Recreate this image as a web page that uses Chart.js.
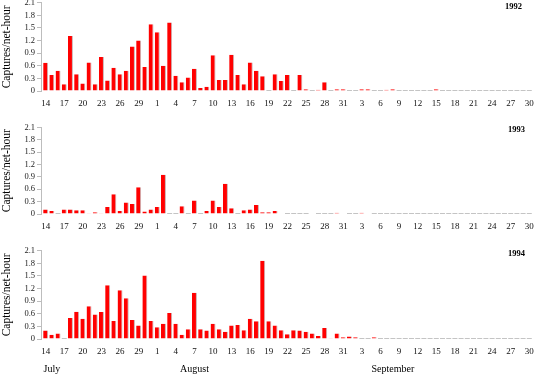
<!DOCTYPE html>
<html><head><meta charset="utf-8">
<script src="https://cdn.jsdelivr.net/npm/chart.js@4/dist/chart.umd.min.js"></script>
<style>
html,body{margin:0;padding:0;background:#fff;width:534px;height:376px;overflow:hidden;position:relative}
canvas{position:absolute;left:0}
</style></head><body>
<canvas id="c1" width="534" height="116" style="top:-4px"></canvas>
<canvas id="c2" width="534" height="126" style="top:111px"></canvas>
<canvas id="c3" width="534" height="139" style="top:237px"></canvas>
<script>
// ---- categories: every day from 14 July to 30 September ----
const monthShort = ['Jul', 'Aug', 'Sep'];
const monthFirstDay = [14, 1, 1];
const monthLastDay = [31, 31, 30];
const categories = [];
monthShort.forEach((m, k) => { for (let d = monthFirstDay[k]; d <= monthLastDay[k]; d++) categories.push(m + ' ' + d); });

// ---- x tick labels (every third day) ----
const xTickDates = ['Jul 14','Jul 17','Jul 20','Jul 23','Jul 26','Jul 29','Aug 1','Aug 4','Aug 7','Aug 10','Aug 13','Aug 16','Aug 19','Aug 22','Aug 25','Aug 28','Aug 31','Sep 3','Sep 6','Sep 9','Sep 12','Sep 15','Sep 18','Sep 21','Sep 24','Sep 27','Sep 30'];
const xTickLabels = ['14','17','20','23','26','29','1','4','7','10','13','16','19','22','25','28','31','3','6','9','12','15','18','21','24','27','30'];

// ---- y ticks ----
const yTicks = [0, 0.3, 0.6, 0.9, 1.2, 1.5, 1.8, 2.1];
const yTickLabels = ['0', '0.3', '0.6', '0.9', '1.2', '1.5', '1.8', '2.1'];

// ---- month labels under the last panel ----
const monthLabels = ['July', 'August', 'September'];
const monthAnchors = ['Jul 15', 'Aug 7', 'Sep 8'];

const yTitle = 'Captures/net-hour';
const years = ['1992', '1993', '1994'];

// ---- captures per net-hour (Jul 14..31, Aug 1..31, Sep 1..30) ----
const values1992 = [
  0.67,0.38,0.48,0.16,1.31,0.40,0.18,0.68,0.16,0.81,0.25,0.55,0.40,0.48,1.06,1.20,0.57,1.59,
  1.40,0.60,1.63,0.36,0.21,0.32,0.53,0.07,0.10,0.85,0.26,0.26,0.86,0.38,0.16,0.68,0.48,0.35,0,0.40,0.24,0.38,0,0.38,0.04,0,0.03,0.21,0,0.04,0.04,
  0,0,0.04,0.04,0,0,0.03,0.04,0,0,0,0,0,0,0.04,0,0,0,0,0,0,0,0,0,0,0,0,0,0,0
];
const values1993 = [
  0.11,0.07,0,0.11,0.11,0.09,0.09,0.02,0.04,0.02,0.17,0.48,0.07,0.28,0.24,0.65,0.06,0.11,
  0.17,0.95,0,0,0.19,0,0.33,0,0.07,0.33,0.17,0.73,0.14,0,0.09,0.11,0.22,0.04,0.04,0.07,0.01,0,0,0,0,0.01,0,0,0,0.03,0.01,
  0,0,0.03,0.01,0,0,0,0,0,0,0,0,0,0,0,0,0,0,0,0,0,0,0,0,0,0,0,0,0,0
];
const values1994 = [
  0.20,0.10,0.13,0,0.50,0.65,0.48,0.78,0.58,0.64,1.28,0.43,1.16,0.97,0.45,0.32,1.51,0.43,
  0.28,0.36,0.62,0.36,0.10,0.23,1.10,0.23,0.20,0.36,0.23,0.17,0.32,0.33,0.21,0.48,0.42,1.86,0.42,0.32,0.21,0.11,0.21,0.20,0.17,0.13,0.07,0.26,0.02,0.13,0.04,
  0.06,0.04,0,0,0.04,0,0,0,0,0,0,0,0,0,0,0,0,0,0,0,0,0,0,0,0,0,0,0,0,0
];

Chart.defaults.font.family = '"Liberation Serif", "Times New Roman", serif';

const panelDecor = {
  id: 'panelDecor',
  beforeDatasetsDraw(chart) {
    const ctx = chart.ctx, meta = chart.getDatasetMeta(0);
    const vals = chart.data.datasets[0].data;
    const y0 = Math.round(chart.scales.y.getPixelForValue(0));
    ctx.save();
    ctx.fillStyle = '#c4c4c4';
    meta.data.forEach((b, i) => {
      if (vals[i].y === 0) ctx.fillRect(b.x - b.width / 2, y0 - 1, b.width, 1);
    });
    ctx.restore();
  },
  afterDraw(chart, args, opts) {
    const ctx = chart.ctx, a = chart.chartArea;
    ctx.save();
    ctx.fillStyle = '#000';
    ctx.font = 'bold 8.5px "Liberation Serif"';
    ctx.textAlign = 'right';
    ctx.textBaseline = 'middle';
    ctx.fillText(opts.year, a.right - opts.yearDx, a.top + opts.yearDy);
    if (opts.months) {
      ctx.font = '10px "Liberation Serif"';
      ctx.textAlign = 'center';
      monthLabels.forEach((m, k) => {
        ctx.fillText(m, chart.scales.x.getPixelForValue(categories.indexOf(monthAnchors[k])), opts.monthY);
      });
    }
    ctx.restore();
  }
};

function makeChart(id, values, year, cfg) {
  new Chart(document.getElementById(id), {
    type: 'bar',
    data: {
      datasets: [{
        data: values.map((v, i) => ({ x: i, y: v })),
        backgroundColor: '#ff0000',
        borderColor: '#c9b4b4',
        borderWidth: { top: 0, right: 1, left: 0, bottom: 0 },
        borderSkipped: 'bottom',
        barPercentage: 0.8,
        categoryPercentage: 1
      }]
    },
    options: {
      responsive: false,
      animation: false,
      events: [],
      layout: { padding: { top: cfg.padTop, right: 1.6, left: 0, bottom: 0 } },
      plugins: {
        legend: { display: false },
        tooltip: { enabled: false },
        panelDecor: { year: year, yearDx: cfg.yearDx, yearDy: cfg.yearDy, months: cfg.months, monthY: cfg.monthY }
      },
      scales: {
        x: {
          type: 'linear', min: -0.75, max: 78.5, offset: false,
          grid: { display: false, drawTicks: false },
          border: { display: false },
          afterBuildTicks: s => { s.ticks = xTickDates.map(d => ({ value: categories.indexOf(d) })); },
          ticks: {
            autoSkip: false, maxRotation: 0, padding: 7,
            font: { size: 9 }, color: '#111',
            callback: (v, i) => xTickLabels[i]
          },
          afterFit: s => { s.height = cfg.xH; s.paddingLeft = 0; s.paddingRight = 0; }
        },
        y: {
          min: 0, max: 2.1,
          afterBuildTicks: s => { s.ticks = yTicks.map(v => ({ value: v })); },
          ticks: {
            autoSkip: false, padding: 2,
            font: { size: 8.5 }, color: '#222',
            callback: (v, i) => yTickLabels[i]
          },
          grid: { drawOnChartArea: false, drawTicks: true, tickLength: 4, color: '#bdbdbd' },
          border: { color: '#bdbdbd' },
          title: { display: true, text: yTitle, font: { size: 11.5 }, color: '#000', padding: 0 },
          afterFit: s => { s.width = 41; s.paddingTop = 0; s.paddingBottom = 0; }
        }
      }
    },
    plugins: [panelDecor]
  });
}

makeChart('c1', values1992, years[0], { padTop: 6.7, xH: 21, yearDx: 10.5, yearDy: 4.3 });
makeChart('c2', values1993, years[1], { padTop: 16.3, xH: 23, yearDx: 7.5, yearDy: 2.7 });
makeChart('c3', values1994, years[2], { padTop: 13.7, xH: 37, yearDx: 7.5, yearDy: 3.3, months: true, monthY: 132 });
</script>
</body></html>
